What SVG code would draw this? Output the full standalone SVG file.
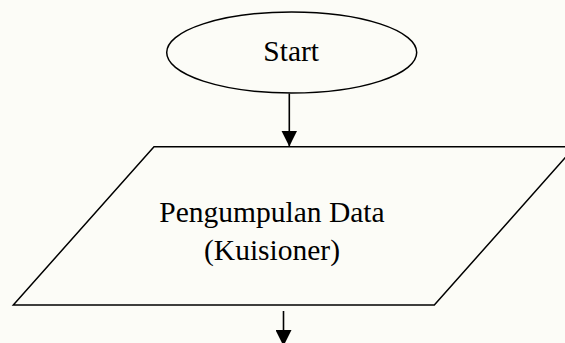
<svg xmlns="http://www.w3.org/2000/svg" width="565" height="343" viewBox="0 0 565 343">
  <defs>
    <marker id="arrowhead" viewBox="0 0 16 16" refX="16" refY="8" markerWidth="16" markerHeight="16" markerUnits="userSpaceOnUse" orient="auto">
      <path d="M0,0 L16,8 L0,16 Z" fill="#000"/>
    </marker>
    <style>
      .shape { fill: none; stroke: #000; stroke-width: 1.5; }
      .label { font-family: "Liberation Serif", "Times New Roman", serif; font-size: 29.5px; fill: #000; text-anchor: middle; }
      .conn { stroke: #000; stroke-width: 1.6; fill: none; marker-end: url(#arrowhead); }
    </style>
  </defs>

  <!-- page -->
  <rect x="0" y="0" width="565" height="343" fill="#fcfcf7"/>

  <g id="connectors">
    <line class="conn" x1="289.3" y1="93.5" x2="289.3" y2="146.5"/>
    <line class="conn" x1="283.5" y1="311" x2="283.5" y2="346"/>
  </g>

  <g id="start">
    <ellipse class="shape" cx="291.7" cy="52.5" rx="125" ry="40.5"/>
    <text class="label" x="291.2" y="61" font-size="31">Start</text>
  </g>

  <g id="pengumpulan-data">
    <polygon class="shape" points="154,146.7 575,146.7 434.3,305 13.3,305"/>
    <text class="label" x="272" y="222">Pengumpulan Data</text>
    <text class="label" x="272" y="260">(Kuisioner)</text>
  </g>
</svg>
